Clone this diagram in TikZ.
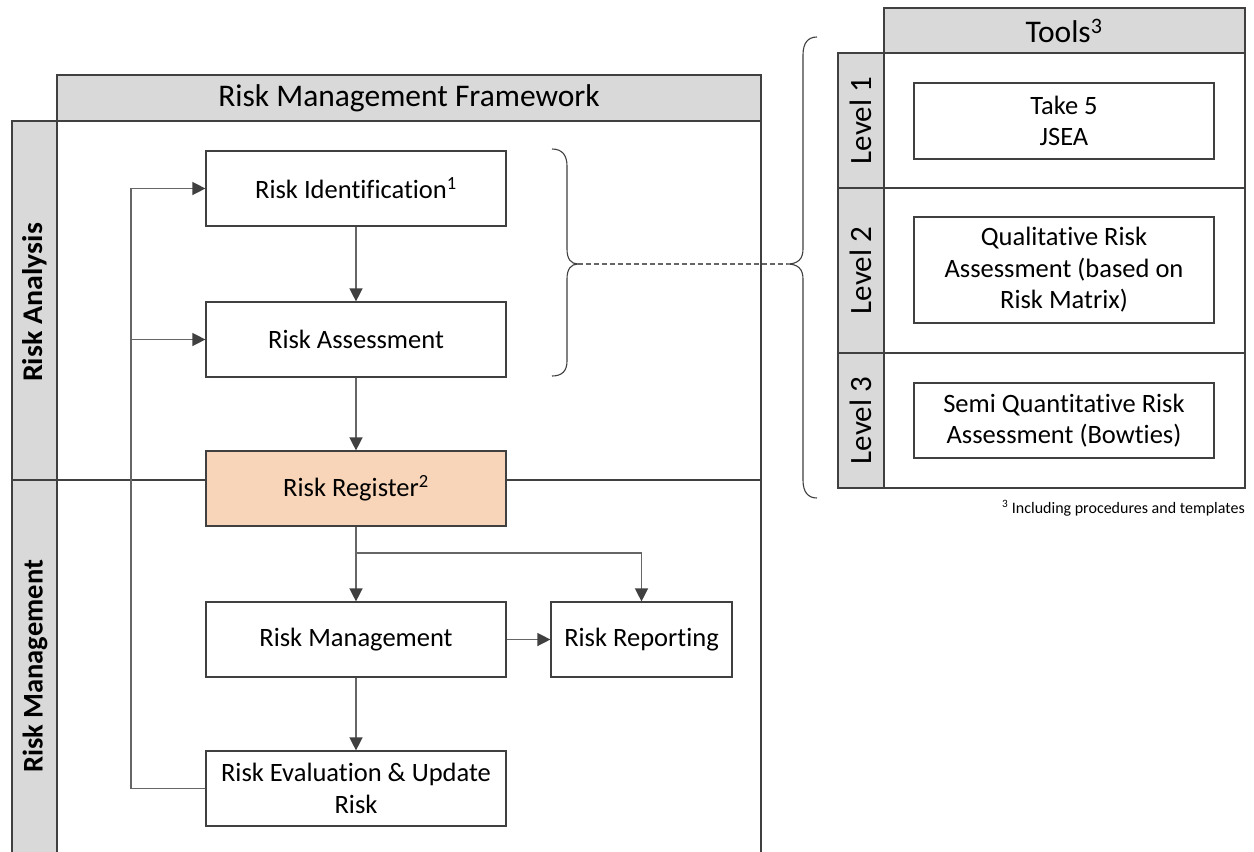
\documentclass[tikz,border=0pt]{standalone}
\usepackage{fontspec}
\setmainfont{Carlito}[Ligatures=NoCommon]
\usetikzlibrary{arrows.meta}
\definecolor{hdr}{HTML}{D9D9D9}
\definecolor{edgec}{HTML}{404040}
\definecolor{connc}{HTML}{666666}
\definecolor{regc}{HTML}{F8D5B8}
\begin{document}
\begin{tikzpicture}[x=1pt,y=-1pt,
  framel/.style={draw=edgec, line width=1.4pt},
  stepbox/.style={draw=edgec, line width=1.2pt, fill=white, minimum width=300pt, minimum height=75pt,
    align=center, inner sep=0pt, font=\fontsize{26.5}{31.5}\selectfont},
  conn/.style={draw=connc, line width=1.4pt, -{Triangle[length=13pt,width=13pt,color=edgec]}},
  brace/.style={draw=edgec, line width=1.1pt},
  lanelabel/.style={rotate=90, font=\bfseries\fontsize{28.5}{30}\selectfont},
  levellabel/.style={rotate=90, font=\fontsize{31}{33}\selectfont},
  headtext/.style={font=\fontsize{31.5}{34}\selectfont}
]
\useasboundingbox (0,0) rectangle (1254,852);
\fill[white] (0,0) rectangle (1254,852);

% ---------- Main framework frame ----------
\draw[framel, fill=hdr] (57,75) rectangle (761,121);
\node[headtext] (fwtitle) at (409,98) {Risk Management Framework};
\draw[framel, fill=hdr] (12,121) rectangle (57,870);
\draw[framel] (57,121) -- (761,121) -- (761,870);
\draw[framel] (12,480) -- (761,480);
\node[lanelabel] (lanea) at (35,302.5) {\scalebox{1.05}[1]{Risk Analysis}};
\node[lanelabel] (laneb) at (35,666.5) {Risk Management};

% ---------- Process boxes ----------
\node[stepbox] (ri) at (356,188.5) {Risk Identification\textsuperscript{1}};
\node[stepbox] (ra) at (356,339.5) {Risk Assessment};
\node[stepbox, fill=regc] (rr) at (356,488.5) {Risk Register\textsuperscript{2}};
\node[stepbox] (rm) at (356,639.5) {Risk Management};
\node[stepbox, minimum width=181pt] (rp) at (641.5,639.5) {Risk Reporting};
\node[stepbox] (re) at (356,788.5) {Risk Evaluation \& Update\\Risk};

% ---------- Connectors ----------
\coordinate (lpb) at (131,788.5);
\coordinate (lpt) at (131,188.5);
\coordinate (lpm) at (131,339.5);
\coordinate (br) at (356,553);

\draw[conn] (ri) -- (ra);
\draw[conn] (ra) -- (rr);
\draw[conn] (rr) -- (rm);
\draw[conn] (br) -| (rp.north);
\draw[conn] (rm) -- (rp);
\draw[conn] (rm) -- (re);
\draw[conn] (re.west) -- (lpb) -- (lpt) -- (ri.west);
\draw[conn] (lpm) -- (ra.west);

% ---------- Braces ----------
\coordinate (b1tip) at (578,264);
\coordinate (b2tip) at (787,264);
\draw[brace] (552,149) .. controls (562,149) and (567,155) .. (567,166)
  -- (567,249) .. controls (567,259) and (571,264) .. (b1tip)
  .. controls (571,264) and (567,269) .. (567,279)
  -- (567,361) .. controls (567,371) and (562,376) .. (552,376);
\draw[brace] (817,37) .. controls (808,37) and (803,43) .. (803,55)
  -- (803,249) .. controls (803,259) and (798,264) .. (b2tip)
  .. controls (798,264) and (803,269) .. (803,279)
  -- (803,480) .. controls (803,492) and (808,498) .. (817,498);
\draw[connc, line width=1.1pt, dashed, dash pattern=on 5pt off 3pt] (b1tip) -- (b2tip);

% ---------- Tools panel ----------
\draw[framel, fill=hdr] (884,8) rectangle (1245,53);
\node[headtext] (tooltitle) at (1064,31) {Tools\textsuperscript{3}};
\draw[framel, fill=hdr] (838,53) rectangle (884,488);
\draw[framel] (884,53) rectangle (1245,488);
\draw[framel] (838,188) -- (1245,188);
\draw[framel] (838,353) -- (1245,353);
\node[levellabel] (lv1) at (861,120.5) {Level 1};
\node[levellabel] (lv2) at (861,270.5) {Level 2};
\node[levellabel] (lv3) at (861,420.5) {Level 3};
\node[stepbox, minimum height=76pt] (t1) at (1064,121) {Take 5\\JSEA};
\node[stepbox, minimum height=106pt] (t2) at (1064,270) {Qualitative Risk\\Assessment (based on\\Risk Matrix)};
\node[stepbox, minimum height=75pt] (t3) at (1064,420.5) {Semi Quantitative Risk\\Assessment (Bowties)};
\node[anchor=east, font=\fontsize{16}{18}\selectfont, inner sep=0pt] (fn) at (1245,508) {\textsuperscript{3} Including procedures and templates};
\end{tikzpicture}
\end{document}
